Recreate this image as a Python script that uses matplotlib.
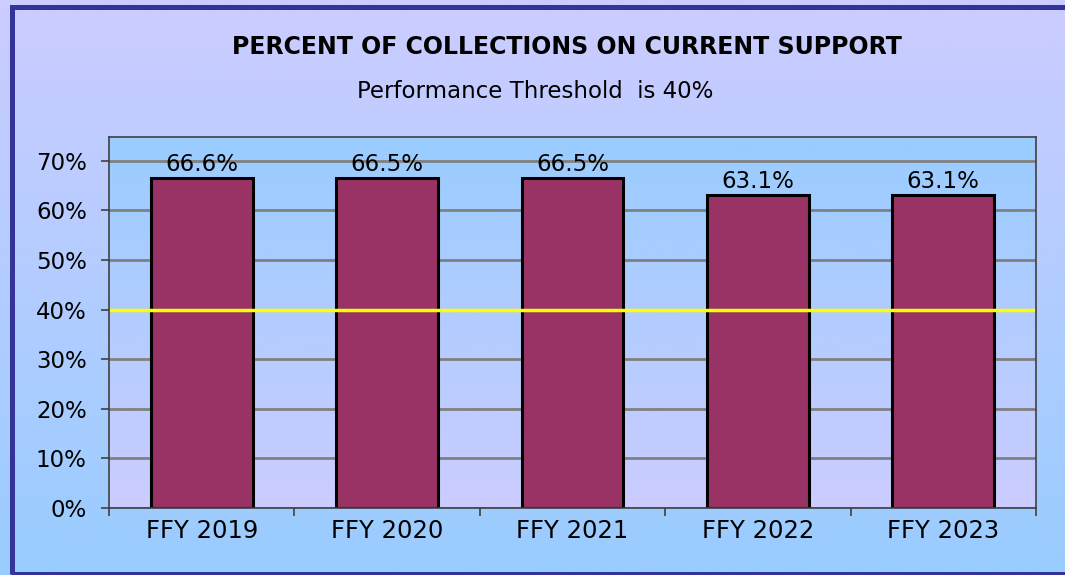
import matplotlib
matplotlib.use("Agg")
import matplotlib.pyplot as plt
import numpy as np
from matplotlib.colors import LinearSegmentedColormap
from matplotlib.patches import Rectangle
from matplotlib.ticker import FixedLocator

categories = ["FFY 2019", "FFY 2020", "FFY 2021", "FFY 2022", "FFY 2023"]
values = [66.6, 66.5, 66.5, 63.1, 63.1]
threshold = 40
y_ticks = [0, 10, 20, 30, 40, 50, 60, 70]
y_tick_labels = ["0%", "10%", "20%", "30%", "40%", "50%", "60%", "70%"]
title = "PERCENT OF COLLECTIONS ON CURRENT SUPPORT"
subtitle = "Performance Threshold  is 40%"

plt.rcParams['font.family'] = ['DejaVu Sans']

W, H = 1065, 575
fig = plt.figure(figsize=(W / 100, H / 100), dpi=100)

lav = "#CCCCFF"
blue = "#99CCFF"

# figure background gradient (lavender top -> light blue bottom)
bg = fig.add_axes([0, 0, 1, 1], zorder=-10)
cmap_bg = LinearSegmentedColormap.from_list("bg", [blue, lav])
grad = np.linspace(0, 1, 256).reshape(-1, 1)
bg.imshow(grad, aspect="auto", cmap=cmap_bg, extent=[0, 1, 0, 1], origin="lower")
bg.set_xlim(0, 1)
bg.set_ylim(0, 1)
bg.axis("off")
# border (left, top, bottom)
bg.add_patch(Rectangle((11.5 / W, 1 / H), 1.2, 1 - 8 / H, fill=False,
                       edgecolor="#333399", linewidth=3.6, transform=bg.transAxes,
                       clip_on=False))

ax = fig.add_axes([109 / W, 1 - 508 / H, (1036 - 109) / W, (508 - 137) / H])
ax.set_facecolor("none")
cmap_pa = LinearSegmentedColormap.from_list("pa", [lav, blue])
ax.imshow(grad, aspect="auto", cmap=cmap_pa, extent=[0, 1, 0, 1], origin="lower",
          transform=ax.transAxes, zorder=0)

x = np.arange(len(categories))
bars = ax.bar(x, values, width=0.55, color="#993366", edgecolor="black",
              linewidth=2.2, zorder=3)
for xi, v in zip(x, values):
    ax.annotate(f"{v:.1f}%", (xi, v), xytext=(0, 1.5), textcoords="offset points",
                ha="center", va="bottom", fontsize=16.5, color="black", zorder=5)

ax.axhline(threshold, color="#FFFF00", linewidth=2.5, zorder=4)

ax.set_xlim(-0.5, len(categories) - 0.5)
ax.set_ylim(0, 74.8)
ax.set_yticks(y_ticks)
ax.set_yticklabels(y_tick_labels, fontsize=16.5)
ax.yaxis.grid(True, color="#808080", linewidth=2, zorder=1)
ax.set_axisbelow(True)
ax.set_xticks(x)
ax.set_xticklabels(categories, fontsize=17.5)
ax.tick_params(axis="x", which="major", length=0, pad=8)
ax.xaxis.set_minor_locator(FixedLocator(np.arange(-0.5, len(categories), 1.0)))
ax.tick_params(axis="x", which="minor", length=6, color="#404040", width=1.2)
ax.tick_params(axis="y", length=6, color="#404040", width=1.2, pad=10)
for s in ax.spines.values():
    s.set_color("#404040")
    s.set_linewidth(1.2)
    s.set_zorder(6)

fig.text(567 / W, 1 - 47 / H, title, ha="center", va="center", fontsize=17,
         fontweight="bold")
fig.text(535 / W, 1 - 91 / H, subtitle, ha="center", va="center", fontsize=16.5)

fig.savefig("out.png", dpi=100)
